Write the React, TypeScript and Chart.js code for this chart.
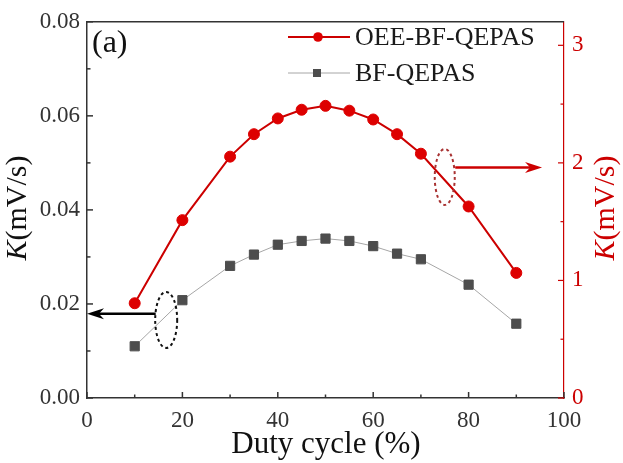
import { useEffect, useRef } from "react";
import { Chart, registerables } from "chart.js";

Chart.register(...registerables);

// duty cycle (%) and measured K values
const dutyCycle = [10, 20, 30, 35, 40, 45, 50, 55, 60, 65, 70, 80, 90];
const bfQepas = [0.011, 0.0208, 0.0281, 0.0305, 0.0326, 0.0334, 0.0339, 0.0334, 0.0323, 0.0307, 0.0295, 0.0241, 0.0158];
const oeeBfQepas = [0.806, 1.513, 2.053, 2.244, 2.378, 2.452, 2.485, 2.444, 2.369, 2.244, 2.078, 1.629, 1.064];

const xTicks = [0, 20, 40, 60, 80, 100];
const xMinor = [10, 30, 50, 70, 90];
const leftTicks = [0, 0.02, 0.04, 0.06, 0.08];
const leftMinor = [0.01, 0.03, 0.05, 0.07];
const rightTicks = [0, 1, 2, 3];
const rightMinor = [0.5, 1.5, 2.5];

// ellipse + arrow markers pointing to each series' axis
const blackMark = { cx: 16.6, cy: 0.0166, arrowFrom: 14.4, arrowTo: 0, arrowY: 0.0179 };
const redMark = { cx: 75, cy: 1.88, arrowFrom: 77.2, arrowTo: 95.4, arrowY: 1.96 };

const SERIF = '"Liberation Serif", "Times New Roman", serif';
const RED = "#cc0000";
const RED_PT = "#dd0000";
const GRAY_PT = "#4d4d4d";
const GRAY_LINE = "#a6a6a6";
const AXIS = "#333333";

function drawTitle(ctx: CanvasRenderingContext2D, cx: number, cy: number, color: string, size: number) {
  const parts = [
    { text: "K", font: `italic ${size}px ${SERIF}` },
    { text: "(mV/s)", font: `${size}px ${SERIF}` },
  ];
  ctx.save();
  ctx.translate(cx, cy);
  ctx.rotate(-Math.PI / 2);
  ctx.fillStyle = color;
  ctx.textBaseline = "middle";
  ctx.textAlign = "left";
  let total = 0;
  parts.forEach(p => {
    ctx.font = p.font;
    total += ctx.measureText(p.text).width;
  });
  let x = -total / 2;
  parts.forEach(p => {
    ctx.font = p.font;
    ctx.fillText(p.text, x, 0);
    x += ctx.measureText(p.text).width;
  });
  ctx.restore();
}

function drawArrow(ctx: CanvasRenderingContext2D, x0: number, x1: number, y: number, color: string) {
  const dir = x1 > x0 ? 1 : -1;
  const head = 17;
  ctx.save();
  ctx.strokeStyle = color;
  ctx.fillStyle = color;
  ctx.lineWidth = 2.5;
  ctx.beginPath();
  ctx.moveTo(x0, y);
  ctx.lineTo(x1 - dir * head * 0.7, y);
  ctx.stroke();
  ctx.beginPath();
  ctx.moveTo(x1, y);
  ctx.lineTo(x1 - dir * head, y - 5.5);
  ctx.lineTo(x1 - dir * head * 0.7, y);
  ctx.lineTo(x1 - dir * head, y + 5.5);
  ctx.closePath();
  ctx.fill();
  ctx.restore();
}

function drawTicks(ctx: CanvasRenderingContext2D, list: number[], toPx: (v: number) => number, seg: (p: number) => number[]) {
  list.forEach(v => {
    const [ax, ay, bx, by] = seg(toPx(v));
    ctx.beginPath();
    ctx.moveTo(ax, ay);
    ctx.lineTo(bx, by);
    ctx.stroke();
  });
}

const decorPlugin = {
  id: "decor",
  afterDatasetsDraw(chart: any) {
    const { ctx, scales } = chart;
    const { x, y, y1 } = scales;

    ctx.save();
    ctx.lineWidth = 2;
    ctx.setLineDash([3, 3]);
    ctx.strokeStyle = "#111";
    ctx.beginPath();
    ctx.ellipse(x.getPixelForValue(blackMark.cx), y.getPixelForValue(blackMark.cy), 11, 28, 0, 0, Math.PI * 2);
    ctx.stroke();
    ctx.strokeStyle = "#a83232";
    ctx.beginPath();
    ctx.ellipse(x.getPixelForValue(redMark.cx), y1.getPixelForValue(redMark.cy), 10, 28, 0, 0, Math.PI * 2);
    ctx.stroke();
    ctx.restore();

    drawArrow(ctx, x.getPixelForValue(blackMark.arrowFrom), x.getPixelForValue(blackMark.arrowTo), y.getPixelForValue(blackMark.arrowY), "#000");
    drawArrow(ctx, x.getPixelForValue(redMark.arrowFrom), x.getPixelForValue(redMark.arrowTo), y1.getPixelForValue(redMark.arrowY), RED);
  },
  afterDraw(chart: any) {
    const { ctx, chartArea: a, scales } = chart;
    const { x, y, y1 } = scales;
    const xp = (v: number) => x.getPixelForValue(v);
    const yp = (v: number) => y.getPixelForValue(v);
    const y1p = (v: number) => y1.getPixelForValue(v);

    ctx.save();
    // top frame
    ctx.strokeStyle = AXIS;
    ctx.lineWidth = 1.5;
    ctx.beginPath();
    ctx.moveTo(a.left, a.top);
    ctx.lineTo(a.right, a.top);
    ctx.stroke();

    // inward ticks
    drawTicks(ctx, xTicks, xp, p => [p, a.bottom, p, a.bottom - 6]);
    drawTicks(ctx, xMinor, xp, p => [p, a.bottom, p, a.bottom - 3.5]);
    drawTicks(ctx, leftTicks, yp, p => [a.left, p, a.left + 6, p]);
    drawTicks(ctx, leftMinor, yp, p => [a.left, p, a.left + 3.5, p]);
    ctx.strokeStyle = RED;
    ctx.lineWidth = 1.2;
    drawTicks(ctx, rightTicks, y1p, p => [a.right, p, a.right - 6, p]);
    drawTicks(ctx, rightMinor, y1p, p => [a.right, p, a.right - 3.5, p]);

    // panel label
    ctx.fillStyle = "#111";
    ctx.font = `32px ${SERIF}`;
    ctx.textBaseline = "middle";
    ctx.textAlign = "left";
    ctx.fillText("(a)", 92, 44);

    // legend
    const legend = [
      { label: "OEE-BF-QEPAS", y: 37, line: RED, lw: 2, pt: RED_PT, circle: true },
      { label: "BF-QEPAS", y: 73, line: GRAY_LINE, lw: 1, pt: GRAY_PT, circle: false },
    ];
    legend.forEach(item => {
      ctx.strokeStyle = item.line;
      ctx.lineWidth = item.lw;
      ctx.beginPath();
      ctx.moveTo(288, item.y);
      ctx.lineTo(350, item.y);
      ctx.stroke();
      ctx.fillStyle = item.pt;
      if (item.circle) {
        ctx.beginPath();
        ctx.arc(318, item.y, 4.8, 0, Math.PI * 2);
        ctx.fill();
      } else {
        ctx.fillRect(313, item.y - 4, 8, 8);
      }
      ctx.fillStyle = "#1a1a1a";
      ctx.font = `26px ${SERIF}`;
      ctx.textBaseline = "middle";
      ctx.fillText(item.label, 355, item.y + 1);
    });

    // axis titles
    drawTitle(ctx, 18, 208, "#111", 30);
    drawTitle(ctx, 606, 208, RED, 30);
    ctx.fillStyle = "#111";
    ctx.font = `31px ${SERIF}`;
    ctx.textAlign = "center";
    ctx.textBaseline = "alphabetic";
    ctx.fillText("Duty cycle (%)", 326, 453);
    ctx.restore();
  },
};

export default function App() {
  const canvasRef = useRef<HTMLCanvasElement>(null);

  useEffect(() => {
    if (!canvasRef.current) return;
    const tickFont = { family: SERIF, size: 23 };

    const chart = new Chart(canvasRef.current, {
      type: "line",
      data: {
        datasets: [
          {
            label: "OEE-BF-QEPAS",
            data: dutyCycle.map((d, i) => ({ x: d, y: oeeBfQepas[i] })),
            yAxisID: "y1",
            borderColor: RED,
            borderWidth: 2,
            pointStyle: "circle",
            pointRadius: 5.5,
            pointBackgroundColor: RED_PT,
            pointBorderColor: RED_PT,
            pointBorderWidth: 1,
            tension: 0,
          },
          {
            label: "BF-QEPAS",
            data: dutyCycle.map((d, i) => ({ x: d, y: bfQepas[i] })),
            yAxisID: "y",
            borderColor: GRAY_LINE,
            borderWidth: 1,
            pointStyle: "rect",
            pointRadius: 6.5,
            pointBackgroundColor: GRAY_PT,
            pointBorderColor: GRAY_PT,
            pointBorderWidth: 1,
            tension: 0,
          },
        ],
      },
      options: {
        responsive: true,
        maintainAspectRatio: false,
        animation: false,
        layout: { padding: { top: 13, left: 0, right: 0, bottom: 0 } },
        plugins: {
          legend: { display: false },
          tooltip: { enabled: false },
        },
        scales: {
          x: {
            type: "linear",
            min: 0,
            max: 100,
            afterBuildTicks: (s: any) => { s.ticks = xTicks.map(v => ({ value: v })); },
            afterFit: (s: any) => { s.height = 65; },
            grid: { display: false, drawTicks: false },
            border: { color: AXIS, width: 1.5 },
            ticks: { color: AXIS, font: tickFont, padding: 9, maxRotation: 0 },
          },
          y: {
            type: "linear",
            position: "left",
            min: 0,
            max: 0.08,
            afterBuildTicks: (s: any) => { s.ticks = leftTicks.map(v => ({ value: v })); },
            afterFit: (s: any) => { s.width = 87; },
            grid: { display: false, drawTicks: false },
            border: { color: AXIS, width: 1.5 },
            ticks: {
              color: AXIS,
              font: tickFont,
              padding: 7,
              callback: (v: any) => Number(v).toFixed(2),
            },
          },
          y1: {
            type: "linear",
            position: "right",
            min: 0,
            max: 3.2,
            afterBuildTicks: (s: any) => { s.ticks = rightTicks.map(v => ({ value: v })); },
            afterFit: (s: any) => { s.width = 59; },
            grid: { display: false, drawTicks: false },
            border: { color: RED, width: 1.2 },
            ticks: { color: RED, font: tickFont, padding: 8 },
          },
        },
      },
      plugins: [decorPlugin],
    });

    return () => chart.destroy();
  }, []);

  return (
    <div style={{ position: "absolute", left: 0, top: 0, width: 623, height: 463, background: "#fff" }}>
      <canvas ref={canvasRef} />
    </div>
  );
}
